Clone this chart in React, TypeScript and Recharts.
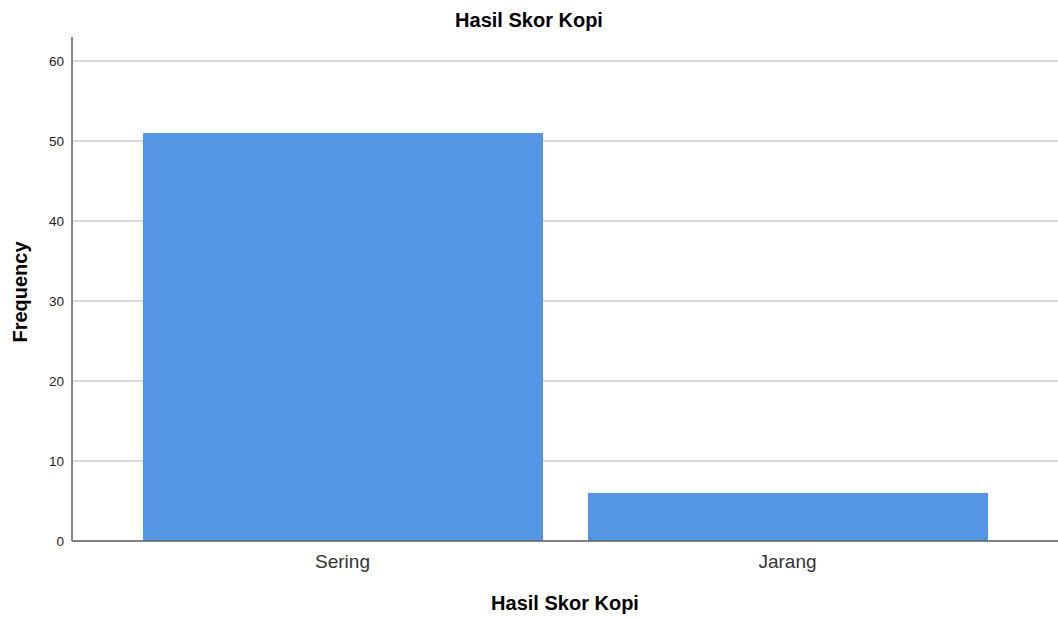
import { BarChart, Bar, XAxis, YAxis, CartesianGrid, Label } from 'recharts';

const categories = ['Sering', 'Jarang'];
const frequencies = [51, 6];
const yTicks = [0, 10, 20, 30, 40, 50, 60];

const data = categories.map((c, i) => ({ category: c, frequency: frequencies[i] }));

const FONT = '"Liberation Sans", Arial, Helvetica, sans-serif';

function FrequencyTitle({ viewBox }: any) {
  const cy = viewBox.y + viewBox.height / 2 + 3;
  const x = 27;
  return (
    <text
      x={x}
      y={cy}
      transform={`rotate(-90, ${x}, ${cy})`}
      textAnchor="middle"
      fontSize={20}
      fontWeight="bold"
      fill="#000"
      fontFamily={FONT}
    >
      Frequency
    </text>
  );
}

export default function App() {
  return (
    <div style={{ position: 'absolute', left: 0, top: 0, width: 1058, height: 619, background: '#fff', fontFamily: FONT }}>
      <div
        style={{
          position: 'absolute',
          left: 0,
          top: 10,
          width: 1058,
          textAlign: 'center',
          fontSize: 20,
          lineHeight: '20px',
          fontWeight: 'bold',
          color: '#000',
        }}
      >
        Hasil Skor Kopi
      </div>
      <BarChart width={1058} height={619} data={data} margin={{ top: 37, right: 0, bottom: 0, left: 0 }}>
        <CartesianGrid vertical={false} horizontalValues={yTicks} stroke="#d8d8d8" strokeWidth={2} />
        <XAxis
          dataKey="category"
          height={78}
          padding={{ left: 48, right: 48 }}
          tickLine={false}
          tickSize={6}
          tickMargin={8}
          axisLine={{ stroke: '#666', strokeWidth: 1.5 }}
          tick={{ fontSize: 19, fill: '#333', fontFamily: FONT }}
        >
          <Label
            value="Hasil Skor Kopi"
            position="insideBottom"
            offset={9}
            style={{ fontSize: 20, fontWeight: 'bold', fill: '#000', fontFamily: FONT }}
          />
        </XAxis>
        <YAxis
          width={72}
          domain={[0, 63]}
          ticks={yTicks}
          allowDataOverflow
          tickLine={false}
          tickSize={6}
          tickMargin={2}
          axisLine={{ stroke: '#888', strokeWidth: 2 }}
          tick={{ fontSize: 13.5, fill: '#222', fontFamily: FONT }}
        >
          <Label content={FrequencyTitle} />
        </YAxis>
        <Bar dataKey="frequency" fill="#5596e4" barSize={400} isAnimationActive={false} />
      </BarChart>
    </div>
  );
}
